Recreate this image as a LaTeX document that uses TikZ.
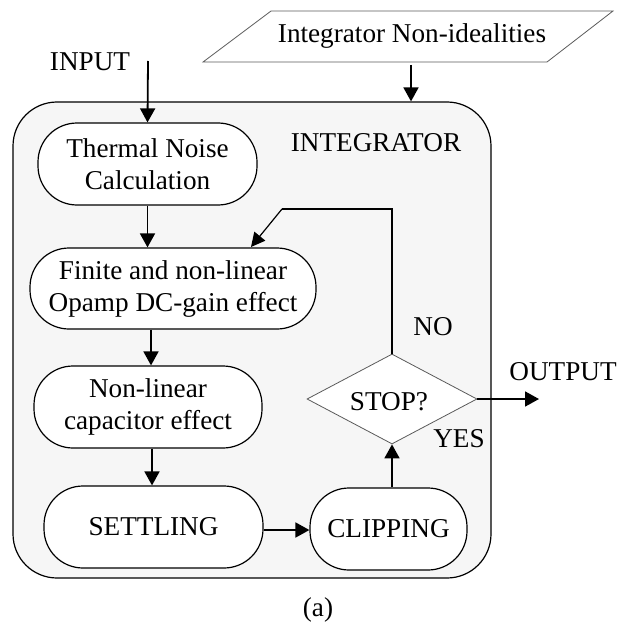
\documentclass[tikz,border=0pt]{standalone}
\usepackage{fontspec}
\setmainfont{Liberation Serif}
\usetikzlibrary{shapes.geometric,arrows.meta}
\definecolor{boxfill}{RGB}{246,246,246}
\definecolor{thingray}{RGB}{90,90,90}
\begin{document}
\begin{tikzpicture}[x=0.5pt,y=-0.5pt,
  every node/.style={font=\fontsize{13.6}{16}\selectfont},
  pill/.style={draw=black, line width=0.6pt, fill=white, rounded corners=19.5pt, align=center, inner sep=0pt, minimum height=41pt},
  lbl/.style={inner sep=0pt},
  arr/.style={line width=0.9pt, -{Triangle[length=7pt,width=7.5pt]}},
  lin/.style={line width=0.8pt}
]
\path[use as bounding box] (0,0) rectangle (617,626);

% input parallelogram
\draw[thingray, line width=0.4pt] (203,62) -- (547,62) -- (613,11) -- (271,11) -- cycle;
\node[lbl] (nonideal) at (412,36) {Integrator Non-idealities};

% integrator container
\node[draw=black, line width=0.6pt, fill=boxfill, rounded corners=22pt, minimum width=239pt, minimum height=238pt, inner sep=0pt] (integ) at (252,340) {};
\node[lbl] (integlbl) at (376,143) {INTEGRATOR};

\node[lbl] (input) at (90,62) {INPUT};
\coordinate (inp) at (148,61);
\coordinate (ni) at (411,65);

% process nodes
\node[pill, minimum width=109.5pt] (thermal) at (147.5,164) {Thermal Noise\\Calculation};
\node[pill, minimum width=143pt, minimum height=40.5pt] (finite) at (173,288.5) {Finite and non-linear\\Opamp DC-gain effect};
\node[pill, minimum width=114pt] (cap) at (148,407) {Non-linear\\capacitor effect};
\node[pill, minimum width=109.5pt] (settle) at (153.5,527) {SETTLING};
\node[pill, minimum width=78.5pt] (clip) at (388.5,529) {CLIPPING};
\node[diamond, draw=thingray, line width=0.4pt, fill=white, aspect=1.89, minimum width=85pt, minimum height=45pt, inner sep=0pt] (stop) at (392,399) {};
\node[lbl] (stoplbl) at (389,402) {STOP?};

\node[lbl] (no) at (433,327) {NO};
\node[lbl] (yes) at (459,439) {YES};
\node[lbl] (output) at (563,372) {OUTPUT};
\node[lbl] (cap-a) at (318,610) {(a)};

\coordinate (out) at (539,399);
\coordinate (fb) at (282,209);
\coordinate (fbend) at (251,247);

% connectors
\draw[arr] (inp) -- (thermal.north);
\draw[arr] (ni) -- (ni |- integ.north);
\draw[arr] (thermal.south) -- (thermal.south |- finite.north);
\draw[arr] ([xshift=1.5pt]cap.north |- finite.south) -- ([xshift=1.5pt]cap.north);
\draw[arr] ([xshift=2pt]cap.south) -- ([xshift=2pt]cap.south |- settle.north);
\draw[arr] ([yshift=-1.5pt]settle.east) -- ([yshift=-1.5pt]settle.east -| clip.west);
\draw[arr] (stop.south |- clip.north) -- (stop.south);
\draw[arr] (stop.east) -- (out);
\draw[lin] (stop.north) |- (fb);
\draw[line width=0.6pt, -{Triangle[length=7pt,width=7pt]}] (fb) -- (fbend);
\end{tikzpicture}
\end{document}
